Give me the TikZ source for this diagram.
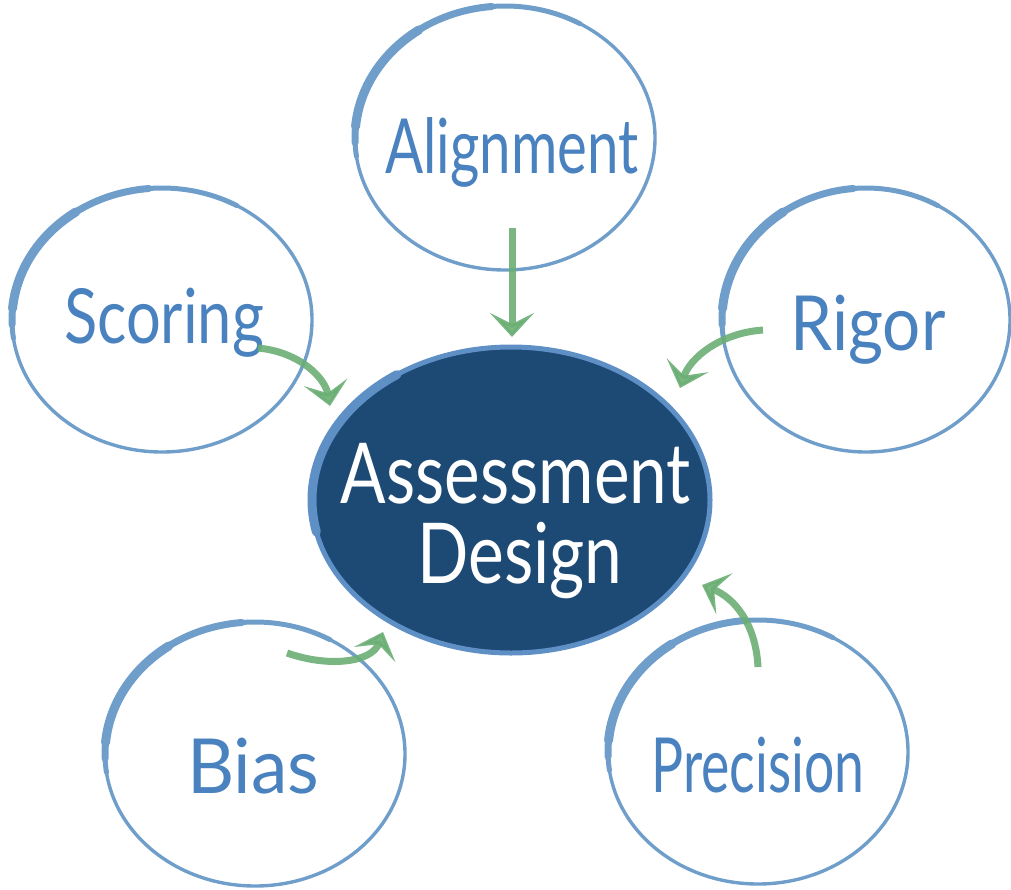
\documentclass[tikz,border=0pt]{standalone}
\usepackage{fontspec}
\usepackage{graphicx}
\setmainfont{Lato}
\usetikzlibrary{arrows.meta,shapes.geometric}
\definecolor{ringblue}{HTML}{6F9ECA}
\definecolor{labelblue}{HTML}{4A82BF}
\definecolor{navy}{HTML}{1C4A75}
\definecolor{coreblue}{HTML}{5E8FC5}
\definecolor{arrowgreen}{HTML}{6AAE74}
\newcommand\fitw[2]{\resizebox{#1}{\height}{#2}}
\tikzset{
  bubble/.style={ellipse, draw=ringblue, line width=3.4pt, minimum width=300pt, minimum height=264pt, inner sep=0pt},
  brushA/.style={draw=ringblue, line width=5pt, line cap=round},
  brushB/.style={draw=ringblue, line width=7pt, line cap=round},
  brushC/.style={draw=ringblue, line width=9pt, line cap=round},
  lbl/.style={text=labelblue, font=\fontsize{76}{80}\selectfont, inner sep=0pt, anchor=base},
  corelbl/.style={text=white, font=\fontsize{84}{90}\selectfont, inner sep=0pt, anchor=base},
  core/.style={ellipse, fill=navy, draw=coreblue, line width=5pt, minimum width=398pt, minimum height=306pt, inner sep=0pt},
  garrow/.style={draw=arrowgreen, line width=7pt, opacity=0.9, -{Stealth[length=24pt, width=44pt, inset=11pt]}}
}
\begin{document}
\begin{tikzpicture}[x=1pt,y=-1pt]
\useasboundingbox (0,0) rectangle (1011,889);

% outer bubbles
\foreach \nm/\cx/\cy/\rx in {al/505/138/150, sc/162/320/150, ri/866/320/144, bi/255/754/150, pr/758/752/150}{
  \node[bubble, minimum width=2*\rx pt] (\nm) at (\cx,\cy) {};
  \draw[brushA] ([shift={(188:\rx pt and 132pt)}]\nm.center) arc[start angle=188, end angle=60, x radius=\rx pt, y radius=132pt];
  \draw[brushB] ([shift={(182:\rx pt and 132pt)}]\nm.center) arc[start angle=182, end angle=95, x radius=\rx pt, y radius=132pt];
  \draw[brushC] ([shift={(175:\rx pt and 132pt)}]\nm.center) arc[start angle=175, end angle=125, x radius=\rx pt, y radius=132pt];
}

% core
\node[core] (ad) at (511,500) {};
\draw[draw=coreblue, line width=9pt, line cap=round] ([shift={(192:199pt and 153pt)}]ad.center) arc[start angle=192, end angle=125, x radius=199pt, y radius=153pt];

% labels
\node[lbl] (alt) at (512,173) {\fitw{253pt}{Alignment}};
\node[lbl] (sct) at (164,343) {\fitw{200pt}{Scoring}};
\node[lbl] (rit) at (868,350) {\fitw{155pt}{Rigor}};
\node[lbl] (bit) at (253,793) {\fitw{132pt}{Bias}};
\node[lbl] (prt) at (758,792) {\fitw{213pt}{Precision}};
\node[corelbl] (adt1) at (516,503) {\fitw{350pt}{Assessment}};
\node[corelbl] (adt2) at (520,583) {\fitw{205pt}{Design}};

% arrows
\coordinate (al-t) at (512,228); \coordinate (al-h) at (512,337);
\coordinate (sc-t) at (258,348); \coordinate (sc-h) at (330,406);
\coordinate (ri-t) at (763,330); \coordinate (ri-h) at (680,388);
\coordinate (bi-t) at (287,653); \coordinate (bi-h) at (383,632);
\coordinate (pr-t) at (758,667); \coordinate (pr-h) at (702,585);

\draw[garrow] (al-t) -- (al-h);
\draw[garrow] (sc-t) .. controls (300,352) and (325,378) .. (sc-h);
\draw[garrow] (ri-t) .. controls (720,333) and (690,358) .. (ri-h);
\draw[garrow] (bi-t) .. controls (330,668) and (372,662) .. (bi-h);
\draw[garrow] (pr-t) .. controls (756,625) and (735,598) .. (pr-h);
\end{tikzpicture}
\end{document}
